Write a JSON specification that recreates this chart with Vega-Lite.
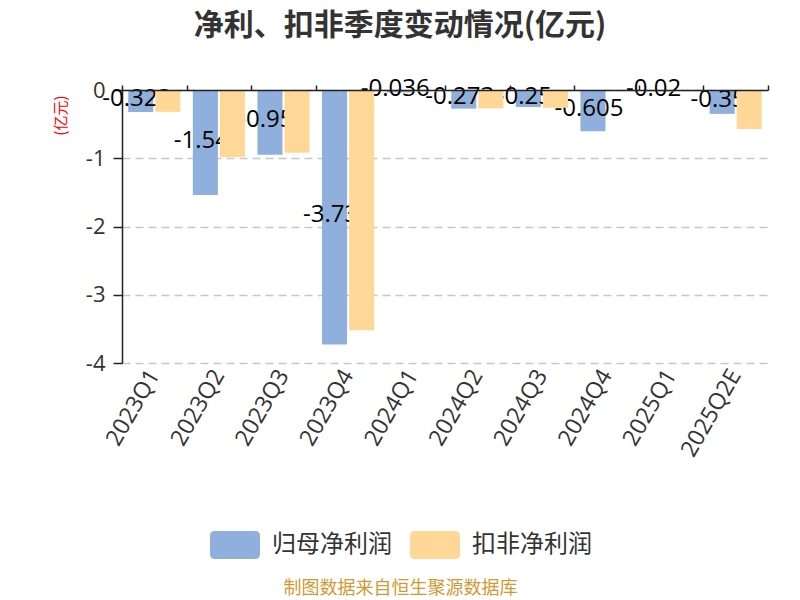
{
  "$schema": "https://vega.github.io/schema/vega-lite/v6.json",
  "width": 646,
  "height": 273,
  "autosize": {"type": "none"},
  "padding": {"left": 122, "top": 90, "right": 32, "bottom": 237},
  "background": "white",
  "title": {
    "text": "净利、扣非季度变动情况(亿元)",
    "fontSize": 30,
    "fontWeight": "bold",
    "color": "#333333",
    "font": "Noto Sans CJK SC",
    "anchor": "middle",
    "dx": -45,
    "offset": 36
  },
  "config": {"view": {"stroke": null}, "font": "Open Sans"},
  "data": {
    "values": [
      {"quarter": "2023Q1", "series": "归母净利润", "value": -0.323},
      {"quarter": "2023Q2", "series": "归母净利润", "value": -1.54},
      {"quarter": "2023Q3", "series": "归母净利润", "value": -0.95},
      {"quarter": "2023Q4", "series": "归母净利润", "value": -3.73},
      {"quarter": "2024Q1", "series": "归母净利润", "value": -0.036},
      {"quarter": "2024Q2", "series": "归母净利润", "value": -0.273},
      {"quarter": "2024Q3", "series": "归母净利润", "value": -0.25},
      {"quarter": "2024Q4", "series": "归母净利润", "value": -0.605},
      {"quarter": "2025Q1", "series": "归母净利润", "value": -0.02},
      {"quarter": "2025Q2E", "series": "归母净利润", "value": -0.35},
      {"quarter": "2023Q1", "series": "扣非净利润", "value": -0.32},
      {"quarter": "2023Q2", "series": "扣非净利润", "value": -0.98},
      {"quarter": "2023Q3", "series": "扣非净利润", "value": -0.92},
      {"quarter": "2023Q4", "series": "扣非净利润", "value": -3.52},
      {"quarter": "2024Q1", "series": "扣非净利润", "value": -0.02},
      {"quarter": "2024Q2", "series": "扣非净利润", "value": -0.27},
      {"quarter": "2024Q3", "series": "扣非净利润", "value": -0.26},
      {"quarter": "2024Q4", "series": "扣非净利润", "value": -0.01},
      {"quarter": "2025Q1", "series": "扣非净利润", "value": -0.02},
      {"quarter": "2025Q2E", "series": "扣非净利润", "value": -0.57}
    ]
  },
  "layer": [
    {
      "transform": [{"filter": "datum.series === '归母净利润'"}],
      "mark": {"type": "bar"},
      "encoding": {
        "x": {
          "field": "quarter",
          "type": "nominal",
          "scale": {
            "domain": ["2023Q1", "2023Q2", "2023Q3", "2023Q4", "2024Q1", "2024Q2", "2024Q3", "2024Q4", "2025Q1", "2025Q2E"],
            "paddingInner": 0,
            "paddingOuter": 0
          },
          "axis": {
            "orient": "bottom",
            "domain": false,
            "ticks": false,
            "grid": false,
            "labelAngle": -60,
            "labelFontSize": 23,
            "labelColor": "#333333",
            "labelPadding": 8,
            "title": "制图数据来自恒生聚源数据库",
            "titleFont": "Noto Sans CJK SC",
            "titleFontSize": 18,
            "titleFontWeight": "normal",
            "titleColor": "#cf9a34",
            "titleX": 278,
            "titleY": 225,
            "titleAlign": "center",
            "titleBaseline": "middle",
            "titleAngle": 0
          }
        },
        "xOffset": {
          "field": "series",
          "type": "nominal",
          "scale": {"domain": ["归母净利润", "扣非净利润"], "paddingInner": 0.074, "paddingOuter": 0.23}
        },
        "y": {
          "field": "value",
          "type": "quantitative",
          "scale": {"domain": [-4, 0], "nice": false, "zero": false},
          "axis": {
            "orient": "left",
            "values": [0, -1, -2, -3, -4],
            "labelExpr": "'' + datum.value",
            "domainColor": "#222222",
            "domainWidth": 1.5,
            "tickColor": "#222222",
            "tickSize": 9,
            "tickWidth": 1.5,
            "labelFontSize": 22,
            "labelColor": "#333333",
            "labelPadding": 8,
            "grid": true,
            "gridDash": [8, 5],
            "gridColor": "#c8c8c8",
            "gridWidth": 1.5,
            "title": "(亿元)",
            "titleColor": "red",
            "titleFontSize": 15,
            "titleFontWeight": "normal",
            "titleFont": "Noto Sans CJK SC",
            "titleAngle": -90,
            "titleX": -62,
            "titleY": 5,
            "titleAlign": "right",
            "titleBaseline": "middle"
          }
        },
        "color": {
          "field": "series",
          "type": "nominal",
          "scale": {"domain": ["归母净利润", "扣非净利润"], "range": ["#8fafdc", "#ffd897"]},
          "legend": {
            "orient": "none",
            "legendX": 88,
            "legendY": 430,
            "direction": "horizontal",
            "title": null,
            "symbolType": "M-0.8,-0.56L0.8,-0.56Q1,-0.56 1,-0.36L1,0.36Q1,0.56 0.8,0.56L-0.8,0.56Q-1,0.56 -1,0.36L-1,-0.36Q-1,-0.56 -0.8,-0.56Z",
            "symbolSize": 2500,
            "symbolStrokeWidth": 0,
            "symbolOpacity": 1,
            "labelFontSize": 24,
            "labelFont": "Noto Sans CJK SC",
            "labelColor": "#333333",
            "labelOffset": 12,
            "columnPadding": 18
          }
        }
      }
    },
    {
      "transform": [{"filter": "datum.series === '归母净利润'"}],
      "mark": {"type": "text", "fontSize": 24, "color": "#000000", "baseline": "middle", "align": "center", "dx": -4, "dy": -2},
      "encoding": {
        "x": {
          "field": "quarter",
          "type": "nominal",
          "axis": {
            "orient": "top",
            "labels": false,
            "ticks": true,
            "tickBand": "extent",
            "tickSize": 5,
            "tickColor": "#222222",
            "tickWidth": 1.5,
            "domain": true,
            "domainColor": "#222222",
            "domainWidth": 1.5,
            "title": null,
            "grid": false,
            "zindex": 1
          }
        },
        "xOffset": {"field": "series", "type": "nominal"},
        "y": {
          "field": "value",
          "type": "quantitative",
          "scale": {"domain": [-8, 0], "nice": false, "zero": false},
          "axis": null
        },
        "text": {"field": "value", "type": "nominal"}
      }
    },
    {
      "transform": [{"filter": "datum.series === '扣非净利润'"}],
      "mark": {"type": "bar"},
      "encoding": {
        "x": {"field": "quarter", "type": "nominal", "axis": null},
        "xOffset": {"field": "series", "type": "nominal"},
        "y": {
          "field": "value",
          "type": "quantitative",
          "scale": {"domain": [-4, 0], "nice": false, "zero": false},
          "axis": null
        },
        "color": {"field": "series", "type": "nominal"}
      }
    }
  ],
  "resolve": {
    "scale": {"y": "independent"},
    "axis": {"x": "independent", "y": "independent"}
  }
}
